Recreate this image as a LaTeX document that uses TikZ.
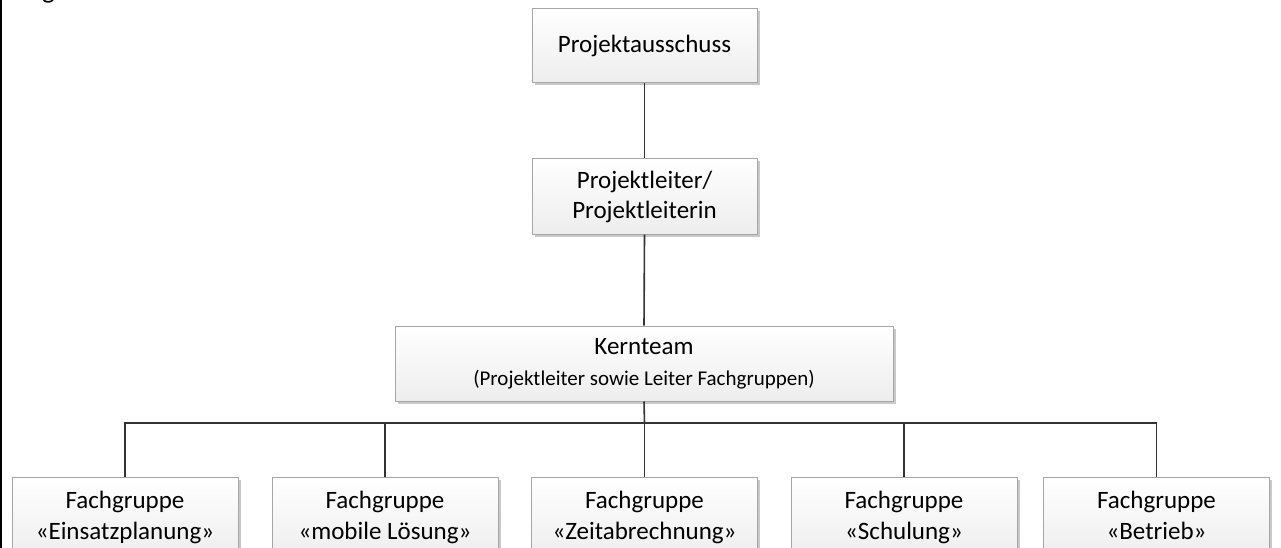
\documentclass[tikz,border=0pt]{standalone}
\usepackage{fontspec}
\setmainfont{Carlito}
\usetikzlibrary{shadows}
\tikzset{
  orgbox/.style={rectangle, draw=gray!70, line width=1pt, top color=white, bottom color=gray!14,
    drop shadow={shadow xshift=2.5pt, shadow yshift=-2.5pt, fill=gray!70, opacity=0.6},
    align=center, inner sep=0pt, font=\fontsize{25}{30}\selectfont},
  conn/.style={draw=black!80, line width=1.6pt},
}
\begin{document}
\begin{tikzpicture}[x=1pt,y=-1pt]
\useasboundingbox (0,0) rectangle (1281,548);
\clip (0,0) rectangle (1281,548);
\fill[white] (0,0) rectangle (1281,548);
\draw[line width=1.6pt] (0.8,0) -- (0.8,548);
\node[anchor=base west, font=\fontsize{27}{32}\selectfont, inner sep=0pt] (title) at (15,-1) {Organisation};

\node[orgbox, minimum width=225pt, minimum height=74pt] (pa) at (644.5,46) {Projektausschuss};
\node[orgbox, minimum width=225pt, minimum height=75pt] (pl) at (644.5,196.5) {Projektleiter/\\Projektleiterin};
\node[orgbox, minimum width=498pt, minimum height=75pt] (kt) at (644,363.5)
  {Kernteam\\[1pt]{\fontsize{21}{26}\selectfont (Projektleiter sowie Leiter Fachgruppen)}};

\tikzset{fbox/.style={orgbox, minimum width=226pt, minimum height=82pt, font=\fontsize{25}{31}\selectfont}}
\node[fbox] (f1) at (125,518) {\strut Fachgruppe\\\strut«Einsatzplanung»};
\node[fbox] (f2) at (385,518) {\strut Fachgruppe\\\strut«mobile Lösung»};
\node[fbox] (f3) at (644.5,518) {\strut Fachgruppe\\\strut«Zeitabrechnung»};
\node[fbox] (f4) at (904,518) {\strut Fachgruppe\\\strut«Schulung»};
\node[fbox] (f5) at (1156.5,518) {\strut Fachgruppe\\\strut«Betrieb»};

\coordinate (bus) at (644.5,423);
\draw[conn] (pa.south) -- (pl.north);
\draw[conn] (pl.south) -- (kt.north);
\draw[conn] (kt.south) -- (bus);
\foreach \f in {f1,f2,f3,f4,f5} {\draw[conn] (\f.north) |- (bus);}
\end{tikzpicture}
\end{document}
